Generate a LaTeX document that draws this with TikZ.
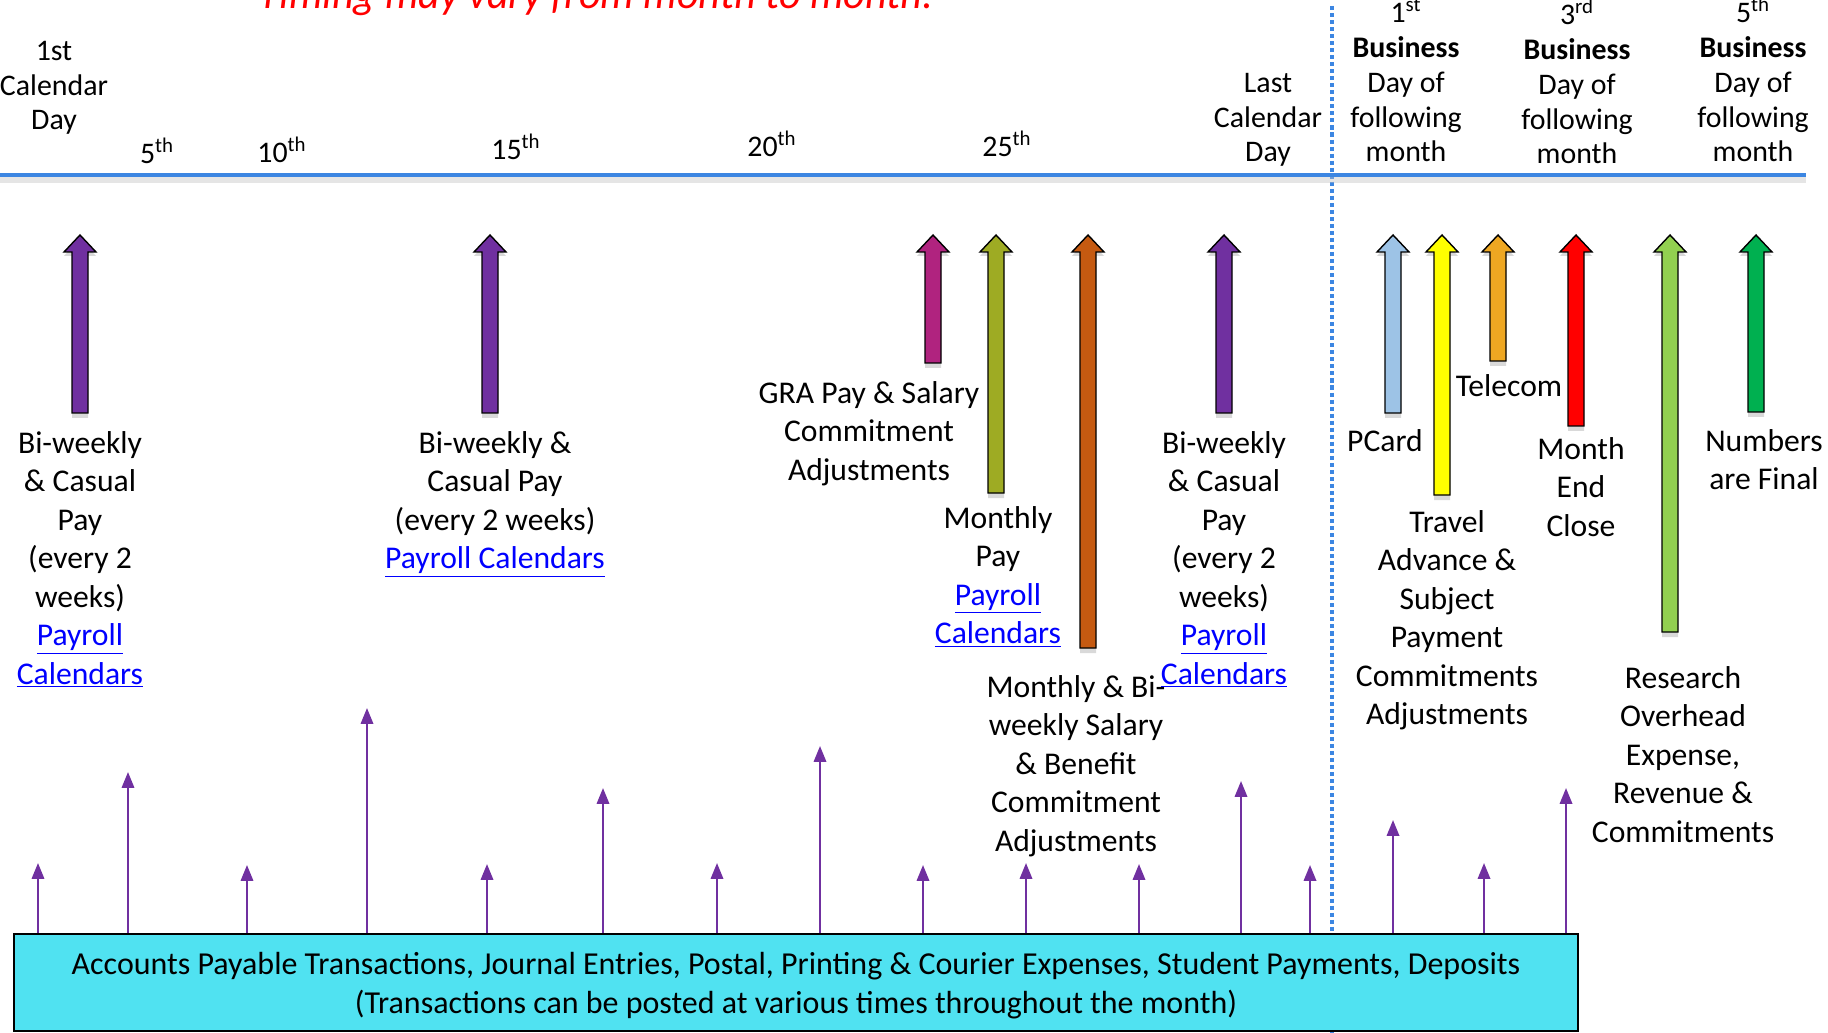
\documentclass[tikz,border=0pt]{standalone}
\usepackage{fontspec}
\setmainfont{Carlito}
\usepackage{xcolor}
\usepackage{tikz}
\usetikzlibrary{arrows.meta}

\definecolor{payPurple}{HTML}{7030A0}
\definecolor{graMagenta}{HTML}{B0237F}
\definecolor{monthOlive}{HTML}{9EAB23}
\definecolor{salaryBrown}{HTML}{C55A11}
\definecolor{pcardBlue}{HTML}{9DC3E6}
\definecolor{travelYellow}{HTML}{FFFF00}
\definecolor{telecomOrange}{HTML}{EEA722}
\definecolor{closeRed}{HTML}{FF0000}
\definecolor{researchGreen}{HTML}{92D050}
\definecolor{finalGreen}{HTML}{00B050}
\definecolor{apCyan}{HTML}{50E2F1}
\definecolor{lineBlue}{HTML}{3C86E2}
\definecolor{linkBlue}{HTML}{0000FF}

\tikzset{
    lbl/.style={align=center, anchor=base, inner sep=0pt, font=\fontsize{18}{21.9}\selectfont},
    daylbl/.style={align=center, anchor=base, inner sep=0pt, font=\fontsize{17}{19.9}\selectfont},
    aparrow/.style={draw=payPurple, line width=1.3pt, -{Triangle[length=9pt, width=7pt]}},
    blockline/.style={draw=black, line width=0.8pt, line join=miter},
    apbox/.style={draw=black, line width=1.1pt, fill=apCyan, inner sep=0pt,
        minimum width=31.28cm, minimum height=1.94cm},
    aptext/.style={align=center, inner sep=0pt, font=\fontsize{18.2}{22.5}\selectfont}
}

\newcommand{\paylink}[1]{\textcolor{linkBlue}{\underline{#1}}}
% x, top, bottom, colour
\newcommand{\blockarrow}[4]{%
    \fill[black, opacity=.15] (#1-8,#3+5) -- (#1-8,#2+21) -- (#1-16,#2+21) -- (#1,#2+4)
        -- (#1+16,#2+21) -- (#1+8,#2+21) -- (#1+8,#3+5) -- cycle;
    \draw[blockline, fill=#4] (#1-8,#3) -- (#1-8,#2+17) -- (#1-16,#2+17) -- (#1,#2)
        -- (#1+16,#2+17) -- (#1+8,#2+17) -- (#1+8,#3) -- cycle;
}

\begin{document}
\begin{tikzpicture}[x=0.02cm, y=-0.02cm]
        \useasboundingbox (0,0) rectangle (1828,1033);

        \node[anchor=base, inner sep=0pt, text=red, font=\fontsize{24}{28}\selectfont\itshape] (title) at (596,9) {Timing may vary from month to month.};

        % days of the month (base = last line)
        \node[daylbl] (first) at (54,130) {1st\\Calendar\\Day};
        \node[daylbl] (d5) at (157,164) {5\textsuperscript{th}};
        \node[daylbl] (d10) at (282,163) {10\textsuperscript{th}};
        \node[daylbl] (d15) at (516,160) {15\textsuperscript{th}};
        \node[daylbl] (d20) at (772,157) {20\textsuperscript{th}};
        \node[daylbl] (d25) at (1007,157) {25\textsuperscript{th}};
        \node[daylbl] (last) at (1268,162) {Last\\Calendar\\Day};
        \node[daylbl] (bd1) at (1406,162) {1\textsuperscript{st}\\\textbf{Business}\\Day of\\following\\month};
        \node[daylbl] (bd3) at (1577,164) {3\textsuperscript{rd}\\\textbf{Business}\\Day of\\following\\month};
        \node[daylbl] (bd5) at (1753,162) {5\textsuperscript{th}\\\textbf{Business}\\Day of\\following\\month};

        \draw[lineBlue, line width=2pt, dash pattern=on 2.3pt off 1.7pt] (1332,6) -- (1332,1033);
        \draw[black!25, opacity=.4, line width=3pt] (0,180) -- (1806,180);
        \draw[lineBlue, line width=2.8pt] (0,175) -- (1806,175);

        % block arrows
        \blockarrow{80}{235}{413}{payPurple}
        \blockarrow{490}{235}{413}{payPurple}
        \blockarrow{933}{235}{363}{graMagenta}
        \blockarrow{996}{235}{493}{monthOlive}
        \blockarrow{1088}{235}{648}{salaryBrown}
        \blockarrow{1224}{235}{413}{payPurple}
        \blockarrow{1393}{235}{413}{pcardBlue}
        \blockarrow{1442}{235}{495}{travelYellow}
        \blockarrow{1498}{235}{361}{telecomOrange}
        \blockarrow{1576}{235}{426}{closeRed}
        \blockarrow{1670}{235}{632}{researchGreen}
        \blockarrow{1756}{235}{412}{finalGreen}

        \node[lbl] (biweekA) at (80,684) {Bi-weekly\\\& Casual\\Pay\\(every 2\\weeks)\\\paylink{Payroll}\\\paylink{Calendars}};
        \node[lbl] (biweekB) at (495,568.5) {Bi-weekly \&\\Casual Pay\\(every 2 weeks)\\\paylink{Payroll Calendars}};
        \node[lbl] (gra) at (869,480) {GRA Pay \& Salary\\Commitment\\Adjustments};
        \node[lbl] (monthly) at (998,643.5) {Monthly\\Pay\\\paylink{Payroll}\\\paylink{Calendars}};
        \node[lbl] (salary) at (1076,851) {Monthly \& Bi-\\weekly Salary\\\& Benefit\\Commitment\\Adjustments};
        \node[lbl] (biweekC) at (1224,684) {Bi-weekly\\\& Casual\\Pay\\(every 2\\weeks)\\\paylink{Payroll}\\\paylink{Calendars}};
        \node[lbl] (pcard) at (1385,452) {PCard};
        \node[lbl] (telecom) at (1509,397) {Telecom};
        \node[lbl] (travel) at (1447,724.5) {Travel\\Advance \&\\Subject\\Payment\\Commitments\\Adjustments};
        \node[lbl] (close) at (1581,536) {Month\\End\\Close};
        \node[lbl] (research) at (1683,842) {Research\\Overhead\\Expense,\\Revenue \&\\Commitments};
        \node[lbl] (final) at (1764,489.5) {Numbers\\are Final};

        % transactions through the month
        \node[apbox] (ap) at (796,982.5) {};
        \node[aptext] (aptxt) at (796,985.5) {Accounts Payable Transactions, Journal Entries, Postal, Printing \& Courier Expenses, Student Payments, Deposits\\(Transactions can be posted at various times throughout the month)};

        \coordinate (tip1) at (38,863);
        \coordinate (tip2) at (128,772);
        \coordinate (tip3) at (247,865);
        \coordinate (tip4) at (367,708);
        \coordinate (tip5) at (487,864);
        \coordinate (tip6) at (603,788);
        \coordinate (tip7) at (717,863);
        \coordinate (tip8) at (820,746);
        \coordinate (tip9) at (923,865);
        \coordinate (tip10) at (1026,863);
        \coordinate (tip11) at (1139,864);
        \coordinate (tip12) at (1241,781);
        \coordinate (tip13) at (1310,865);
        \coordinate (tip14) at (1393,820);
        \coordinate (tip15) at (1484,863);
        \coordinate (tip16) at (1566,788);

        \draw[aparrow] (tip1 |- ap.north) -- (tip1);
        \draw[aparrow] (tip2 |- ap.north) -- (tip2);
        \draw[aparrow] (tip3 |- ap.north) -- (tip3);
        \draw[aparrow] (tip4 |- ap.north) -- (tip4);
        \draw[aparrow] (tip5 |- ap.north) -- (tip5);
        \draw[aparrow] (tip6 |- ap.north) -- (tip6);
        \draw[aparrow] (tip7 |- ap.north) -- (tip7);
        \draw[aparrow] (tip8 |- ap.north) -- (tip8);
        \draw[aparrow] (tip9 |- ap.north) -- (tip9);
        \draw[aparrow] (tip10 |- ap.north) -- (tip10);
        \draw[aparrow] (tip11 |- ap.north) -- (tip11);
        \draw[aparrow] (tip12 |- ap.north) -- (tip12);
        \draw[aparrow] (tip13 |- ap.north) -- (tip13);
        \draw[aparrow] (tip14 |- ap.north) -- (tip14);
        \draw[aparrow] (tip15 |- ap.north) -- (tip15);
        \draw[aparrow] (tip16 |- ap.north) -- (tip16);

\end{tikzpicture}
\end{document}
